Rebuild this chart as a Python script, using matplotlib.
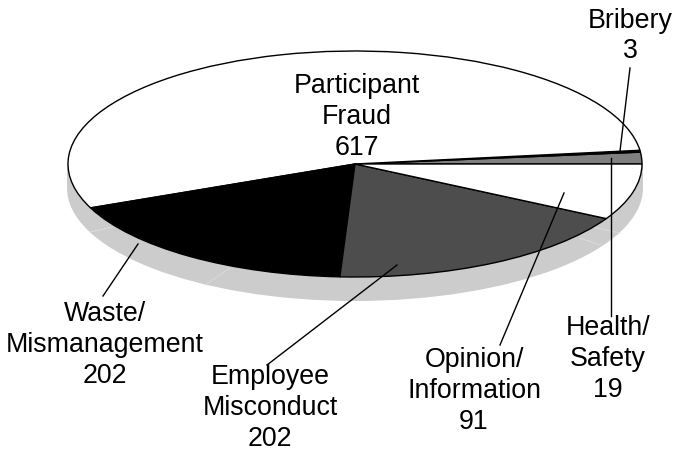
import matplotlib
matplotlib.use("Agg")
import matplotlib.pyplot as plt
from matplotlib.patches import Ellipse, Rectangle

W, H = 675, 451

# Data (starting at 3 o'clock, going counter-clockwise)
categories = ["Health/\nSafety", "Bribery", "Participant\nFraud", "Waste/\nMismanagement",
              "Employee\nMisconduct", "Opinion/\nInformation"]
values = [19, 3, 617, 202, 202, 91]
colors = ["#808080", "#000000", "#ffffff", "#000000", "#4d4d4d", "#ffffff"]

# label centres and leader lines, in pixels of the picture
label_pos = [(608, 359), (630, 36), (357, 117), (105, 345), (270, 408), (474, 391)]
leaders = [
    ((610.5, 158), (610.5, 316)),
    ((620, 151), (630, 68)),
    None,
    ((138, 244), (103, 296)),
    ((397, 265), (267, 365)),
    ((564, 193), (500, 345)),
]
# faint seams on the rim
seams = [((90, 232), (113, 227)), ((205, 285), (230, 268)),
         ((580, 238), (600, 245)), ((593, 227), (620, 233))]

plt.rcParams["font.family"] = ["Liberation Sans", "DejaVu Sans"]
fig = plt.figure(figsize=(W / 100, H / 100), dpi=100)

# pixel axes for the shadow, leaders and text
bg = fig.add_axes([0, 0, 1, 1], zorder=0)
bg.set_xlim(0, W)
bg.set_ylim(H, 0)
bg.axis("off")

cx, cy, rx, ry = 355, 164, 287, 113
depth = 24
bg.add_patch(Ellipse((cx, cy + depth), 2 * rx + 2, 2 * ry, fc="#cccccc", ec="none"))
bg.add_patch(Rectangle((cx - rx - 1, cy), 2 * rx + 2, depth, fc="#cccccc", ec="none"))
for a, b in seams:
    bg.plot([a[0], b[0]], [a[1], b[1]], color="#dedede", lw=0.6)

# the pie itself, squashed by its own axes
pie_ax = fig.add_axes([(cx - rx) / W, 1 - (cy + ry) / H, 2 * rx / W, 2 * ry / H], zorder=1)
pie_ax.pie(values, colors=colors, startangle=0, counterclock=True, radius=1,
           wedgeprops={"edgecolor": "black", "linewidth": 1.0}, frame=False)
pie_ax.set_aspect("auto")
pie_ax.set_xlim(-1, 1)
pie_ax.set_ylim(-1, 1)
pie_ax.axis("off")
for p in pie_ax.patches:
    p.set_clip_on(False)

top = fig.add_axes([0, 0, 1, 1], zorder=2)
top.set_xlim(0, W)
top.set_ylim(H, 0)
top.axis("off")
top.patch.set_alpha(0)

for cat, val, pos, leader in zip(categories, values, label_pos, leaders):
    top.text(pos[0], pos[1], f"{cat}\n{val}", ha="center", va="center", fontsize=19.3,
             linespacing=1.24, color="black")
    if leader is not None:
        top.plot([leader[0][0], leader[1][0]], [leader[0][1], leader[1][1]],
                 color="black", lw=1.0)

fig.savefig("out.png", dpi=100)
